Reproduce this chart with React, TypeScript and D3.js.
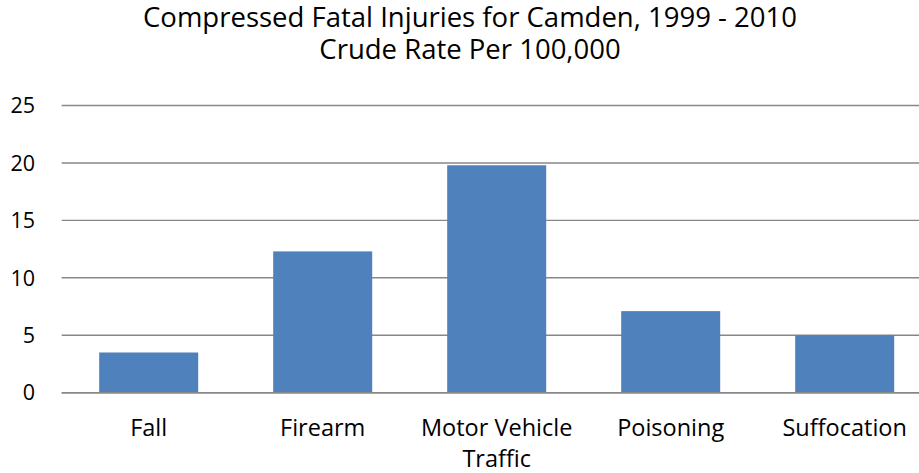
import React from "react";
import * as d3 from "d3";

const categories: string[][] = [["Fall"], ["Firearm"], ["Motor Vehicle", "Traffic"], ["Poisoning"], ["Suffocation"]];
const categoryKeys = ["Fall", "Firearm", "Motor Vehicle Traffic", "Poisoning", "Suffocation"];
const values = [3.5, 12.3, 19.8, 7.1, 5.0];
const yTicks = [0, 5, 10, 15, 20, 25];
const titleLines = ["Compressed Fatal Injuries for Camden, 1999 - 2010", "Crude Rate Per 100,000"];

const W = 919;
const H = 473;
const FONT = "'Open Sans', 'Noto Sans', sans-serif";

export default function App() {
  const x = d3
    .scaleBand<string>()
    .domain(categoryKeys)
    .range([61.7, 931.7])
    .paddingInner(0.431)
    .paddingOuter(0.2155);
  const y = d3.scaleLinear().domain([0, 25]).range([392.7, 105.5]);

  return (
    <svg
      width={W}
      height={H}
      style={{ position: "absolute", left: 0, top: 0, background: "#fff" }}
      fontFamily={FONT}
    >
      <rect x={0} y={0} width={W} height={H} fill="#fff" />
      {titleLines.map((t, i) => (
        <text key={t} x={470} y={27 + i * 31.5} textAnchor="middle" fontSize={27.5} fill="#000">
          {t}
        </text>
      ))}
      {yTicks.map((t) => (
        <g key={t}>
          <line x1={61.7} x2={W} y1={y(t)} y2={y(t)} stroke="#878787" strokeWidth={1.4} />
          <text x={35} y={y(t)} dy="0.36em" textAnchor="end" fontSize={21.5} fill="#000">
            {t}
          </text>
        </g>
      ))}
      {categoryKeys.map((k, i) => (
        <rect
          key={k}
          x={x(k)!}
          y={y(values[i])}
          width={x.bandwidth()}
          height={y(0) - y(values[i])}
          fill="#4F81BD"
        />
      ))}
      <line x1={61.7} x2={W} y1={y(0)} y2={y(0)} stroke="#878787" strokeWidth={1.4} />
      {categoryKeys.map((k, i) => (
        <text key={k} textAnchor="middle" fontSize={23.5} fill="#000">
          {categories[i].map((line, j) => (
            <tspan key={line} x={x(k)! + x.bandwidth() / 2} y={436 + j * 31}>
              {line}
            </tspan>
          ))}
        </text>
      ))}
    </svg>
  );
}
